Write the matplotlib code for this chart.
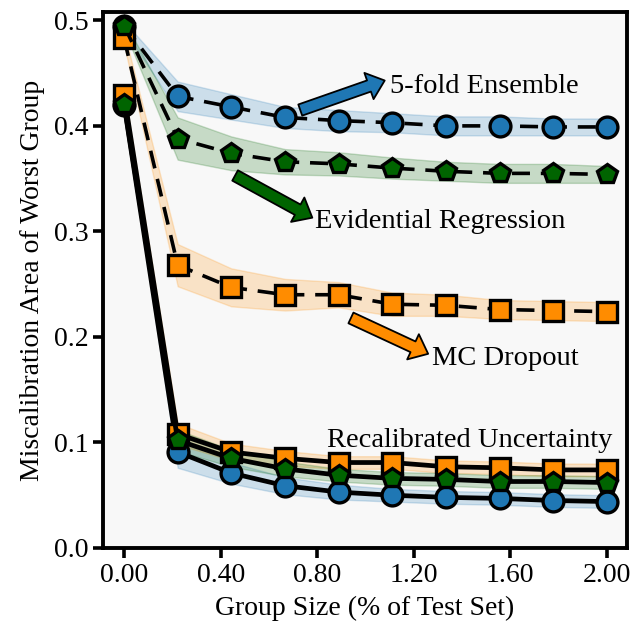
import numpy as np
import matplotlib
matplotlib.use("Agg")
import matplotlib.pyplot as plt

plt.rcParams['font.family'] = ['Liberation Serif', 'DejaVu Serif']
plt.rcParams['font.size'] = 20

# group sizes (% of test set)
group_size = [0.0, 0.222, 0.444, 0.667, 0.889, 1.111, 1.333, 1.556, 1.778, 2.0]

# raw uncertainty (dashed)
ens_raw = [0.495, 0.428, 0.418, 0.408, 0.405, 0.403, 0.400, 0.400, 0.399, 0.399]
ens_raw_sd = [0.004, 0.014, 0.012, 0.010, 0.010, 0.009, 0.009, 0.009, 0.008, 0.008]
evi_raw = [0.495, 0.388, 0.374, 0.366, 0.364, 0.360, 0.357, 0.355, 0.355, 0.354]
evi_raw_sd = [0.004, 0.020, 0.016, 0.012, 0.011, 0.010, 0.009, 0.009, 0.009, 0.008]
mcd_raw = [0.483, 0.268, 0.247, 0.240, 0.240, 0.231, 0.230, 0.226, 0.225, 0.224]
mcd_raw_sd = [0.006, 0.020, 0.018, 0.015, 0.012, 0.011, 0.010, 0.009, 0.009, 0.009]

# recalibrated uncertainty (solid)
ens_cal = [0.420, 0.091, 0.071, 0.059, 0.053, 0.050, 0.048, 0.047, 0.045, 0.044]
ens_cal_sd = [0.006, 0.015, 0.010, 0.008, 0.007, 0.006, 0.006, 0.006, 0.006, 0.006]
evi_cal = [0.421, 0.102, 0.085, 0.075, 0.069, 0.066, 0.065, 0.063, 0.063, 0.062]
evi_cal_sd = [0.006, 0.010, 0.008, 0.007, 0.006, 0.006, 0.006, 0.006, 0.006, 0.006]
mcd_cal = [0.429, 0.108, 0.091, 0.085, 0.081, 0.081, 0.077, 0.076, 0.074, 0.074]
mcd_cal_sd = [0.006, 0.010, 0.008, 0.007, 0.006, 0.006, 0.006, 0.006, 0.006, 0.006]

blue = '#1f77b4'
green = '#006400'
orange = '#ff8c00'

fig = plt.figure(figsize=(6.35, 6.27), dpi=100)
ax = fig.add_axes([0.162, 0.126, 0.825, 0.855])
ax.set_facecolor('#f8f8f8')

x = np.array(group_size)
series = [
    (ens_raw, ens_raw_sd, ens_cal, ens_cal_sd, blue, 'o', 15),
    (mcd_raw, mcd_raw_sd, mcd_cal, mcd_cal_sd, orange, 's', 14),
    (evi_raw, evi_raw_sd, evi_cal, evi_cal_sd, green, 'p', 15),
]
for raw, raw_sd, cal, cal_sd, c, m, ms in series:
    raw = np.array(raw); raw_sd = np.array(raw_sd)
    cal = np.array(cal); cal_sd = np.array(cal_sd)
    ax.fill_between(x, raw - raw_sd, raw + raw_sd, color=c, alpha=0.2, lw=1)
    ax.fill_between(x, cal - cal_sd, cal + cal_sd, color=c, alpha=0.2, lw=1)
    ax.plot(x, raw, ls=(0, (5, 3)), color='black', lw=2.6, marker=m, ms=ms,
            mfc=c, mec='black', mew=2.4)
    ax.plot(x, cal, ls='-', color='black', lw=3.4, marker=m, ms=ms,
            mfc=c, mec='black', mew=2.4)

def arrow(tail, head, c):
    ax.annotate('', xy=head, xytext=tail,
                arrowprops=dict(facecolor=c, edgecolor='black', width=8.5,
                                headwidth=20, headlength=12, lw=1.3, shrink=0))

arrow((0.73, 0.415), (1.08, 0.443), blue)
ax.text(1.10, 0.437, '5-fold Ensemble', va='center', ha='left', fontsize=20.5)
arrow((0.46, 0.353), (0.78, 0.313), green)
ax.text(0.79, 0.309, 'Evidential Regression', va='center', ha='left', fontsize=20.5)
arrow((0.94, 0.218), (1.26, 0.184), orange)
ax.text(1.275, 0.180, 'MC Dropout', va='center', ha='left', fontsize=20.5)
ax.text(0.84, 0.102, 'Recalibrated Uncertainty', va='center', ha='left', fontsize=20.5)

ax.set_xlim(-0.088, 2.083)
ax.set_ylim(0, 0.508)
ax.set_xticks([0.0, 0.4, 0.8, 1.2, 1.6, 2.0])
ax.set_xticklabels(['0.00', '0.40', '0.80', '1.20', '1.60', '2.00'])
ax.set_yticks([0.0, 0.1, 0.2, 0.3, 0.4, 0.5])
ax.tick_params(direction='out', length=7, width=2.6)
for s in ax.spines.values():
    s.set_linewidth(2.8)
ax.set_xlabel('Group Size (% of Test Set)', labelpad=6)
ax.set_ylabel('Miscalibration Area of Worst Group', labelpad=6)

fig.savefig('out.png', dpi=100)
